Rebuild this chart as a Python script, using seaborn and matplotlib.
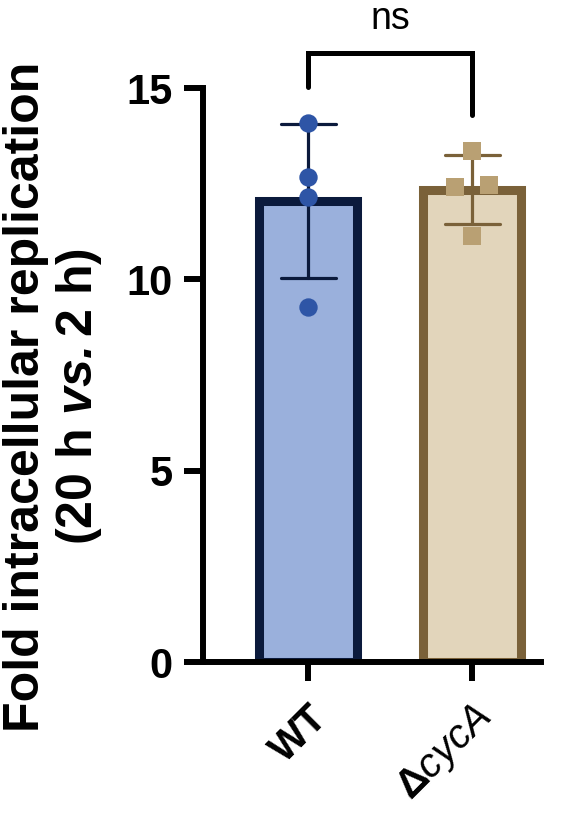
"""
Fold intracellular replication bar chart (WT vs cycA mutant)
Bars = mean, error bars = SD, points = individual replicates
"""

import numpy as np
import pandas as pd
import matplotlib
matplotlib.use('Agg')
import matplotlib.pyplot as plt
import matplotlib.transforms as mtransforms
import seaborn as sns

# Data
groups = ['WT', 'ΔcycA']
wt_values = [14.08, 12.67, 12.16, 9.29]
cyca_values = [13.35, 12.48, 12.42, 11.14]
tick_labels = ['WT', r'Δ$\it{cycA}$']
y_ticks = [0, 5, 10, 15]

# Styling
fill_colors = ['#9AB0DC', '#E2D5BB']
edge_colors = ['#0B1A3C', '#7A6139']
point_colors = ['#2E55A6', '#B9A073']
markers = ['o', 's']


def spread_offsets(values, min_gap=0.3, step=0.21):
    """Spread replicates that would overlap horizontally (like a column scatter)"""
    values = np.asarray(values)
    order = np.argsort(values)
    offsets = np.zeros(len(values))
    clusters = [[order[0]]]
    for i in order[1:]:
        if values[i] - values[clusters[-1][-1]] < min_gap:
            clusters[-1].append(i)
        else:
            clusters.append([i])
    for cl in clusters:
        n = len(cl)
        for k, i in enumerate(cl):
            offsets[i] = (k - (n - 1) / 2) * step
    return offsets


df = pd.DataFrame({
    'group': [groups[0]] * len(wt_values) + [groups[1]] * len(cyca_values),
    'value': wt_values + cyca_values,
})

sns.set_style('ticks')
plt.rcParams['font.family'] = ['Liberation Sans', 'DejaVu Sans']
for key in ['axes.edgecolor', 'text.color', 'axes.labelcolor', 'xtick.color', 'ytick.color']:
    plt.rcParams[key] = 'black'
plt.rcParams['mathtext.fontset'] = 'custom'
plt.rcParams['mathtext.rm'] = 'Liberation Sans'
plt.rcParams['mathtext.it'] = 'Liberation Sans:italic'
plt.rcParams['mathtext.bf'] = 'Liberation Sans:bold'
plt.rcParams['mathtext.bfit'] = 'Liberation Sans:italic:bold'

fig = plt.figure(figsize=(5.85, 8.14), dpi=100)
ax = fig.add_axes([0.347, 0.1867, 0.578, 0.705])

sns.barplot(data=df, x='group', y='value', hue='group', order=groups,
            palette=fill_colors, saturation=1, errorbar='sd', capsize=0.335,
            width=0.6, linewidth=6.5, err_kws={'linewidth': 2.3},
            legend=False, ax=ax)

for patch, ec in zip(ax.patches, edge_colors):
    patch.set_edgecolor(ec)
for line, ec in zip(ax.lines, edge_colors):
    line.set_color(ec)
    line.set_zorder(3)

# Individual replicates
for i, vals in enumerate([wt_values, cyca_values]):
    xs = i + spread_offsets(vals)
    sns.scatterplot(x=xs, y=vals, marker=markers[i], color=point_colors[i],
                    s=175, linewidth=0, zorder=4, ax=ax)

# Significance bracket
ax.plot([0, 0, 1, 1], [15.02, 15.91, 15.91, 14.3], color='black', lw=3.6,
        clip_on=False, solid_joinstyle='miter')
ax.text(0.5, 16.55, 'ns', ha='center', va='baseline', fontsize=27)

ax.set_xlim(-0.64, 1.42)
ax.set_ylim(0, 15)
ax.set_yticks(y_ticks)
ax.set_yticklabels([str(t) for t in y_ticks], fontsize=30, fontweight='bold')
ax.set_xticks([0, 1])
ax.set_xticklabels(tick_labels, fontsize=29, fontweight='bold', rotation=45,
                   ha='right', rotation_mode='anchor')
shift = mtransforms.ScaledTranslation(-12 / 100, -3 / 100, fig.dpi_scale_trans)
for lab in ax.get_xticklabels():
    lab.set_transform(lab.get_transform() + shift)
ax.set_xlabel('')
ax.set_ylabel('Fold intracellular replication\n(20 h $\\mathbfit{vs.}$2 h)',
              fontsize=36, fontweight='bold', linespacing=1.12)
ax.yaxis.set_label_coords(-0.293, 0.463)

sns.despine(ax=ax)
for side in ['left', 'bottom']:
    ax.spines[side].set_linewidth(4.3)
    ax.spines[side].set_color('black')
ax.tick_params(axis='y', length=14, width=4.3, pad=8)
ax.tick_params(axis='x', length=14, width=4.3, pad=12)

fig.savefig('out.png', dpi=100)
